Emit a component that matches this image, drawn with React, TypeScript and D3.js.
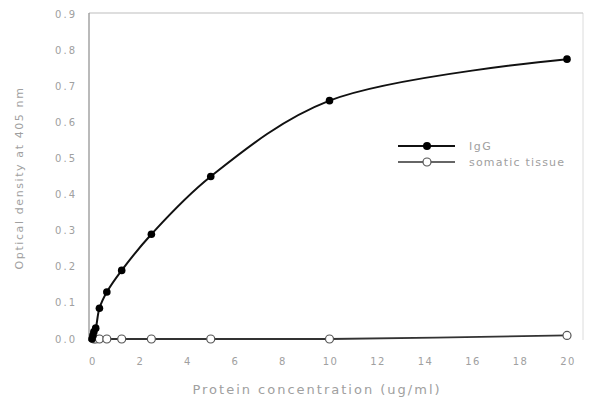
import React from "react";
import * as d3 from "d3";

const iggX = [0, 0.039, 0.078, 0.156, 0.3125, 0.625, 1.25, 2.5, 5, 10, 20];
const iggY = [0.0, 0.01, 0.02, 0.03, 0.085, 0.13, 0.19, 0.29, 0.45, 0.66, 0.775];
const somX = [0.078, 0.156, 0.3125, 0.625, 1.25, 2.5, 5, 10, 20];
const somY = [0.0, 0.0, 0.0, 0.0, 0.0, 0.0, 0.0, 0.0, 0.01];
const xTicks = [0, 2, 4, 6, 8, 10, 12, 14, 16, 18, 20];
const yTicks = [0, 0.1, 0.2, 0.3, 0.4, 0.5, 0.6, 0.7, 0.8, 0.9];
const seriesNames = ["IgG", "somatic tissue"];

export default function App() {
  const W = 589, H = 401;
  const x = d3.scaleLinear().domain([0, 20]).range([92, 567]);
  const y = d3.scaleLinear().domain([0, 0.9]).range([339, 14]);
  const line = d3
    .line<[number, number]>()
    .x((d) => x(d[0]))
    .y((d) => y(d[1]))
    .curve(d3.curveCatmullRom.alpha(0.5));
  const iggPts: [number, number][] = iggX.map((v, i) => [v, iggY[i]]);
  const somPts: [number, number][] = somX.map((v, i) => [v, somY[i]]);
  const font = "DejaVu Sans, Verdana, sans-serif";
  const txt = "#a0a0a0";
  return (
    <svg
      width={W}
      height={H}
      style={{ position: "absolute", left: 0, top: 0, background: "#fff" }}
      fontFamily={font}
    >
      {/* frame */}
      <line x1={583} y1={13} x2={583} y2={340} stroke="#dcdcdc" strokeWidth={1} />
      <line x1={89} y1={13} x2={583} y2={13} stroke="#bdbdbd" strokeWidth={1} />
      <line x1={89} y1={13} x2={89} y2={341} stroke="#8c8c8c" strokeWidth={1.2} />
      {/* y ticks */}
      {yTicks.map((t) => (
        <text
          key={"y" + t}
          x={77}
          y={y(t)}
          dy="0.35em"
          textAnchor="end"
          fontSize={10}
          letterSpacing={2}
          fill={txt}
        >
          {t.toFixed(1)}
        </text>
      ))}
      {xTicks.map((t) => (
        <text
          key={"x" + t}
          x={x(t) + 1}
          y={361}
          dy="0.35em"
          textAnchor="middle"
          fontSize={10}
          letterSpacing={1.5}
          fill={txt}
        >
          {t}
        </text>
      ))}
      <text
        transform={`translate(23,178) rotate(-90)`}
        textAnchor="middle"
        fontSize={11}
        letterSpacing={1.6}
        fill={txt}
      >
        Optical density at 405 nm
      </text>
      <text
        x={317}
        y={389}
        dy="0.35em"
        textAnchor="middle"
        fontSize={13}
        letterSpacing={2}
        fill={txt}
      >
        Protein concentration (ug/ml)
      </text>
      {/* somatic series */}
      <path d={line(somPts) || ""} fill="none" stroke="#333" strokeWidth={1.8} />
      {somPts.map((p, i) => (
        <circle
          key={"s" + i}
          cx={x(p[0])}
          cy={y(p[1])}
          r={4}
          fill="#fff"
          stroke="#555"
          strokeWidth={1.2}
        />
      ))}
      {/* IgG series */}
      <path d={line(iggPts) || ""} fill="none" stroke="#111" strokeWidth={2} />
      {iggPts.map((p, i) => (
        <circle key={"g" + i} cx={x(p[0])} cy={y(p[1])} r={3.8} fill="#000" />
      ))}
      {/* legend */}
      <line x1={398} y1={146} x2={455} y2={146} stroke="#111" strokeWidth={2} />
      <circle cx={427} cy={146} r={4} fill="#000" />
      <text x={469} y={146} dy="0.35em" fontSize={11} letterSpacing={1.5} fill={txt}>
        {seriesNames[0]}
      </text>
      <line x1={398} y1={162} x2={455} y2={162} stroke="#666" strokeWidth={2} />
      <circle cx={427} cy={162} r={4} fill="#fff" stroke="#555" strokeWidth={1.2} />
      <text x={469} y={162} dy="0.35em" fontSize={11} letterSpacing={1.2} fill={txt}>
        {seriesNames[1]}
      </text>
    </svg>
  );
}
